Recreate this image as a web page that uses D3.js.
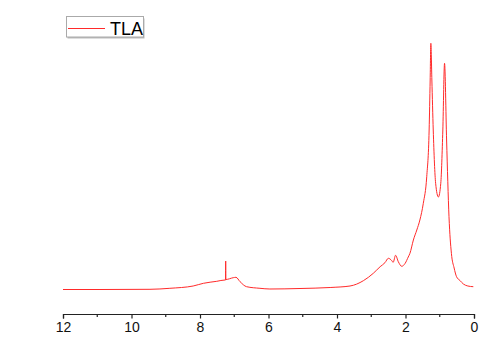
<!DOCTYPE html>
<html>
<head>
<meta charset="utf-8">
<script src="https://cdn.jsdelivr.net/npm/d3@7"></script>
<style>
  body { margin: 0; background: #fff; }
  svg { display: block; font-family: "Liberation Sans", Arial, sans-serif; }
</style>
</head>
<body>
<div id="chart"></div>
<script>
"use strict";

// chemical shift (ppm) and intensity
var ppm = [12.0, 10.92, 9.46, 8.88, 8.20, 7.90, 7.51, 7.27, 7.255, 7.25, 7.245,
  7.03, 6.95, 6.83, 6.64, 6.25, 5.96, 5.08, 4.20, 3.62, 3.23, 2.94, 2.74, 2.60,
  2.50, 2.40, 2.36, 2.29, 2.21, 2.11, 2.01, 1.92, 1.87, 1.77, 1.67, 1.58, 1.48,
  1.38, 1.31, 1.28, 1.26, 1.23, 1.19, 1.12, 1.04, 0.97, 0.91, 0.86, 0.80, 0.73,
  0.66, 0.58, 0.51, 0.41, 0.31, 0.18, 0.02];
var intensity = [0, 0, 0.2, 1.2, 3.5, 6.2, 8.2, 9.5, 9.5, 28.5, 10,
  11.8, 12.2, 7.8, 2.8, 1.2, 0.5, 1.0, 2, 3.5, 8.8, 16.2, 22.8, 26.8,
  31.2, 28.8, 27.2, 34.2, 27.8, 23.2, 26.2, 32.5, 36.2, 49.5, 59.5, 69.5, 86.2,
  112.8, 159.5, 209.5, 246.2, 209.5, 159.5, 106.2, 92.5, 106.2, 159.5, 226.2, 149.5, 72.8,
  36.2, 21.5, 12.8, 9, 5.5, 3.5, 2.8];
var xTicks = [12, 10, 8, 6, 4, 2, 0];
var minorTicks = [11, 9, 7, 5, 3, 1];
var seriesName = "TLA";

var width = 500, height = 353;

var svg = d3.select("#chart").append("svg")
  .attr("width", width).attr("height", height);

var x = d3.scaleLinear().domain([12, 0]).range([63, 474]);
var y = d3.scaleLinear().domain([0, 250]).range([289.5, 39.5]);

var data = ppm.map(function (p, i) { return { x: p, y: intensity[i] }; });

var line = d3.line()
  .curve(d3.curveMonotoneX)
  .x(function (d) { return x(d.x); })
  .y(function (d) { return y(d.y); });

svg.append("path").datum(data)
  .attr("fill", "none")
  .attr("stroke", "#ff2a2a")
  .attr("stroke-width", 1)
  .attr("d", line);

// bottom axis
var axisY = 314;
var axis = svg.append("g").attr("transform", "translate(0," + axisY + ")")
  .call(d3.axisBottom(x).tickValues(xTicks).tickSize(4.5).tickPadding(4)
    .tickFormat(d3.format("d")));
axis.select(".domain").attr("stroke", "#222").attr("stroke-width", 1.2);
axis.selectAll(".tick line").attr("stroke", "#222").attr("stroke-width", 1.2);
axis.selectAll(".tick text").attr("fill", "#111")
  .style("font-size", "14px").style("font-family", "Liberation Sans, Arial, sans-serif");

svg.append("g").attr("transform", "translate(0," + axisY + ")")
  .selectAll("line").data(minorTicks).enter().append("line")
  .attr("x1", function (d) { return x(d); })
  .attr("x2", function (d) { return x(d); })
  .attr("y1", 0).attr("y2", 3)
  .attr("stroke", "#222").attr("stroke-width", 1.2);

// legend
var lg = svg.append("g");
lg.append("rect").attr("x", 67.5).attr("y", 18.5).attr("width", 77).attr("height", 20)
  .attr("fill", "#bbb");
lg.append("rect").attr("x", 66.5).attr("y", 16.5).attr("width", 77).attr("height", 20.5)
  .attr("fill", "#fff").attr("stroke", "#aaa").attr("stroke-width", 1);
lg.append("line").attr("x1", 68).attr("x2", 105).attr("y1", 28.5).attr("y2", 28.5)
  .attr("stroke", "#ff2a2a").attr("stroke-width", 1);
lg.append("text").attr("x", 110).attr("y", 34.5)
  .style("font-size", "19px").attr("fill", "#000")
  .attr("textLength", 33).attr("lengthAdjust", "spacingAndGlyphs")
  .text(seriesName);
</script>
</body>
</html>
